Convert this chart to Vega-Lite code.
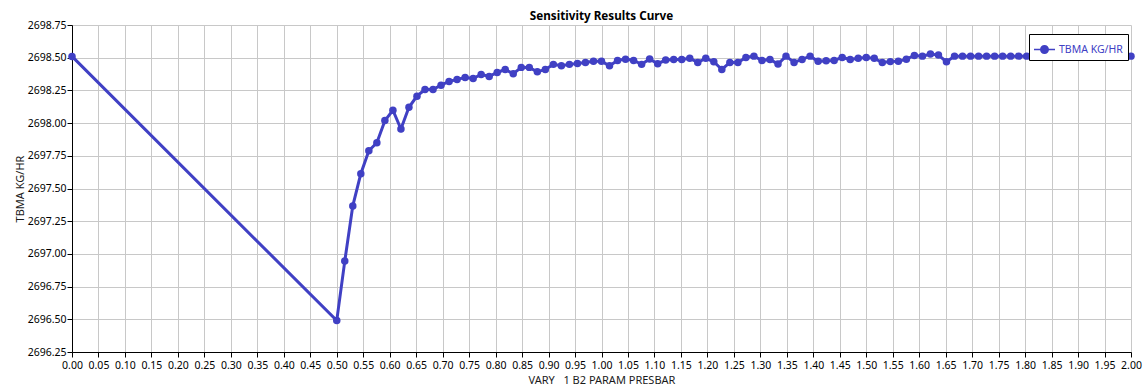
{
  "$schema": "https://vega.github.io/schema/vega-lite/v6.json",
  "width": 1059,
  "height": 327,
  "autosize": {"type": "none"},
  "padding": {"left": 72, "top": 25, "right": 15, "bottom": 40},
  "background": "white",
  "title": {"text": "Sensitivity Results Curve", "font": "Noto Sans", "fontSize": 11.7, "fontWeight": "bold", "color": "#000000", "anchor": "middle", "frame": "group", "offset": -3},
  "data": {"values": [
    {"vary": 0, "tbma": 2698.51},
    {"vary": 0.5, "tbma": 2696.49},
    {"vary": 0.51515, "tbma": 2696.945},
    {"vary": 0.5303, "tbma": 2697.367},
    {"vary": 0.54545, "tbma": 2697.613},
    {"vary": 0.56061, "tbma": 2697.789},
    {"vary": 0.57576, "tbma": 2697.85},
    {"vary": 0.59091, "tbma": 2698.019},
    {"vary": 0.60606, "tbma": 2698.098},
    {"vary": 0.62121, "tbma": 2697.955},
    {"vary": 0.63636, "tbma": 2698.121},
    {"vary": 0.65152, "tbma": 2698.206},
    {"vary": 0.66667, "tbma": 2698.257},
    {"vary": 0.68182, "tbma": 2698.257},
    {"vary": 0.69697, "tbma": 2698.29},
    {"vary": 0.71212, "tbma": 2698.318},
    {"vary": 0.72727, "tbma": 2698.334},
    {"vary": 0.74242, "tbma": 2698.349},
    {"vary": 0.75758, "tbma": 2698.341},
    {"vary": 0.77273, "tbma": 2698.372},
    {"vary": 0.78788, "tbma": 2698.357},
    {"vary": 0.80303, "tbma": 2698.387},
    {"vary": 0.81818, "tbma": 2698.41},
    {"vary": 0.83333, "tbma": 2698.377},
    {"vary": 0.84848, "tbma": 2698.426},
    {"vary": 0.86364, "tbma": 2698.426},
    {"vary": 0.87879, "tbma": 2698.392},
    {"vary": 0.89394, "tbma": 2698.41},
    {"vary": 0.90909, "tbma": 2698.449},
    {"vary": 0.92424, "tbma": 2698.438},
    {"vary": 0.93939, "tbma": 2698.449},
    {"vary": 0.95455, "tbma": 2698.456},
    {"vary": 0.9697, "tbma": 2698.464},
    {"vary": 0.98485, "tbma": 2698.472},
    {"vary": 1.0, "tbma": 2698.472},
    {"vary": 1.01515, "tbma": 2698.438},
    {"vary": 1.0303, "tbma": 2698.479},
    {"vary": 1.04545, "tbma": 2698.489},
    {"vary": 1.06061, "tbma": 2698.479},
    {"vary": 1.07576, "tbma": 2698.449},
    {"vary": 1.09091, "tbma": 2698.49},
    {"vary": 1.10606, "tbma": 2698.454},
    {"vary": 1.12121, "tbma": 2698.482},
    {"vary": 1.13636, "tbma": 2698.487},
    {"vary": 1.15152, "tbma": 2698.487},
    {"vary": 1.16667, "tbma": 2698.495},
    {"vary": 1.18182, "tbma": 2698.464},
    {"vary": 1.19697, "tbma": 2698.495},
    {"vary": 1.21212, "tbma": 2698.469},
    {"vary": 1.22727, "tbma": 2698.41},
    {"vary": 1.24242, "tbma": 2698.464},
    {"vary": 1.25758, "tbma": 2698.464},
    {"vary": 1.27273, "tbma": 2698.502},
    {"vary": 1.28788, "tbma": 2698.512},
    {"vary": 1.30303, "tbma": 2698.479},
    {"vary": 1.31818, "tbma": 2698.487},
    {"vary": 1.33333, "tbma": 2698.451},
    {"vary": 1.34848, "tbma": 2698.512},
    {"vary": 1.36364, "tbma": 2698.464},
    {"vary": 1.37879, "tbma": 2698.487},
    {"vary": 1.39394, "tbma": 2698.512},
    {"vary": 1.40909, "tbma": 2698.472},
    {"vary": 1.42424, "tbma": 2698.477},
    {"vary": 1.43939, "tbma": 2698.479},
    {"vary": 1.45455, "tbma": 2698.502},
    {"vary": 1.4697, "tbma": 2698.487},
    {"vary": 1.48485, "tbma": 2698.495},
    {"vary": 1.5, "tbma": 2698.502},
    {"vary": 1.51515, "tbma": 2698.495},
    {"vary": 1.5303, "tbma": 2698.463},
    {"vary": 1.54545, "tbma": 2698.47},
    {"vary": 1.56061, "tbma": 2698.472},
    {"vary": 1.57576, "tbma": 2698.489},
    {"vary": 1.59091, "tbma": 2698.517},
    {"vary": 1.60606, "tbma": 2698.512},
    {"vary": 1.62121, "tbma": 2698.528},
    {"vary": 1.63636, "tbma": 2698.52},
    {"vary": 1.65152, "tbma": 2698.469},
    {"vary": 1.66667, "tbma": 2698.512},
    {"vary": 1.68182, "tbma": 2698.512},
    {"vary": 1.69697, "tbma": 2698.512},
    {"vary": 1.71212, "tbma": 2698.512},
    {"vary": 1.72727, "tbma": 2698.512},
    {"vary": 1.74242, "tbma": 2698.512},
    {"vary": 1.75758, "tbma": 2698.512},
    {"vary": 1.77273, "tbma": 2698.512},
    {"vary": 1.78788, "tbma": 2698.512},
    {"vary": 1.80303, "tbma": 2698.512},
    {"vary": 1.81818, "tbma": 2698.512},
    {"vary": 1.83333, "tbma": 2698.512},
    {"vary": 1.84848, "tbma": 2698.512},
    {"vary": 1.86364, "tbma": 2698.512},
    {"vary": 1.87879, "tbma": 2698.512},
    {"vary": 1.89394, "tbma": 2698.512},
    {"vary": 1.90909, "tbma": 2698.512},
    {"vary": 1.92424, "tbma": 2698.512},
    {"vary": 1.93939, "tbma": 2698.512},
    {"vary": 1.95455, "tbma": 2698.512},
    {"vary": 1.9697, "tbma": 2698.512},
    {"vary": 1.98485, "tbma": 2698.512},
    {"vary": 2.0, "tbma": 2698.512}
  ]},
  "mark": {"type": "line", "strokeWidth": 3, "point": {"filled": true, "size": 56, "opacity": 1}},
  "encoding": {
    "x": {
      "field": "vary", "type": "quantitative",
      "scale": {"domain": [0, 2], "nice": false, "zero": false},
      "axis": {
        "title": "VARY\u00a0\u00a0\u00a01 B2 PARAM PRESBAR",
        "values": [0, 0.05, 0.1, 0.15, 0.2, 0.25, 0.3, 0.35, 0.4, 0.45, 0.5, 0.55, 0.6, 0.65, 0.7, 0.75, 0.8, 0.85, 0.9, 0.95, 1.0, 1.05, 1.1, 1.15, 1.2, 1.25, 1.3, 1.35, 1.4, 1.45, 1.5, 1.55, 1.6, 1.65, 1.7, 1.75, 1.8, 1.85, 1.9, 1.95, 2.0],
        "format": ".2f", "labelOverlap": false, "labelFlush": false
      }
    },
    "y": {
      "field": "tbma", "type": "quantitative",
      "scale": {"domain": [2696.25, 2698.75], "nice": false, "zero": false},
      "axis": {
        "title": "TBMA KG/HR",
        "values": [2696.25, 2696.5, 2696.75, 2697.0, 2697.25, 2697.5, 2697.75, 2698.0, 2698.25, 2698.5, 2698.75],
        "format": ".2f", "labelOverlap": false, "labelFlush": false
      }
    },
    "color": {
      "datum": "TBMA KG/HR",
      "scale": {"range": ["#4040c4"]},
      "legend": {
        "orient": "none", "legendX": 957, "legendY": 9, "title": null,
        "strokeColor": "#000000", "fillColor": "#ffffff", "padding": 5, "cornerRadius": 0,
        "symbolType": "M-1,-0.07H1V0.07H-1Z M0.43,0A0.43,0.43,0,1,1,-0.43,0A0.43,0.43,0,1,1,0.43,0Z",
        "symbolSize": 441, "symbolStrokeWidth": 0, "symbolFillColor": "#4040c4",
        "labelFont": "Noto Sans", "labelFontSize": 10.5, "labelColor": "#4040c4", "labelOffset": 4,
        "encode": {"symbols": {"update": {"fill": {"value": "#4040c4"}, "stroke": {"value": "#4040c4"}, "strokeWidth": {"value": 0}, "opacity": {"value": 1}}}}
      }
    }
  },
  "config": {
    "view": {"stroke": null},
    "axis": {
      "domainColor": "#000000", "domainWidth": 1, "tickColor": "#000000", "tickSize": 5, "tickWidth": 1,
      "grid": true, "gridColor": "#c8c8c8", "gridWidth": 1,
      "labelFont": "Noto Sans", "labelFontSize": 10.5, "labelColor": "#000000",
      "titleFont": "Noto Sans", "titleFontSize": 11, "titleFontWeight": "normal", "titleColor": "#1a1a1a"
    },
    "axisX": {"labelPadding": 3, "titlePadding": 4},
    "axisY": {"labelPadding": 1, "titlePadding": 2}
  }
}
